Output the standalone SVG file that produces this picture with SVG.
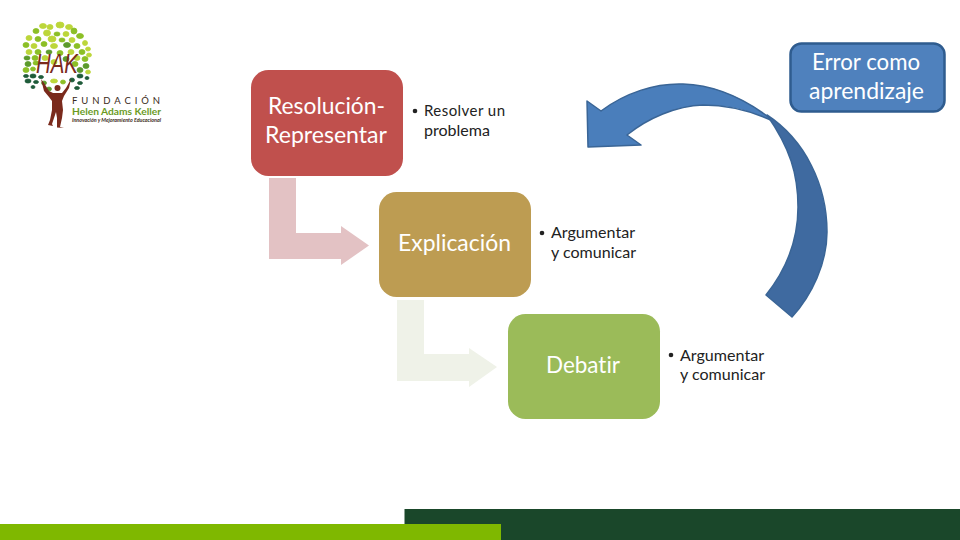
<svg xmlns="http://www.w3.org/2000/svg" width="960" height="540" viewBox="0 0 960 540">
<style>
text{font-family:"Lato","Open Sans","Liberation Sans",sans-serif;font-variant-ligatures:none}
.t{fill:#fff;font-size:22.5px;text-anchor:middle}
.b{fill:#222;font-size:15px}
.lg{fill:#8cbf26;stroke:#8cbf26}.ld{fill:#5c9a2c;stroke:#5c9a2c}.ll{fill:#bcd63a;stroke:#bcd63a}.lk{fill:#1f5c3a;stroke:#1f5c3a}
#leaves ellipse{stroke-width:.8}
</style>
<rect width="960" height="540" fill="#fff"/>
<g id="footer">
<rect x="404.500" y="509" width="555.500" height="31" fill="#1a472a"/>
<rect x="0" y="524" width="501" height="16" fill="#7fb800"/>
</g>
<g id="logo">
<g id="leaves">
<ellipse class="ll" cx="43" cy="26" rx="3.5" ry="2.500"/><ellipse class="ll" cx="50" cy="27" rx="3" ry="2.500"/><ellipse class="ll" cx="60" cy="25" rx="4" ry="3"/><ellipse class="ll" cx="69" cy="27" rx="3.500" ry="2.500"/><ellipse class="lg" cx="74" cy="31" rx="3" ry="3"/>
<ellipse class="lg" cx="36" cy="31" rx="3" ry="2.500"/><ellipse class="ll" cx="47" cy="33" rx="3.500" ry="3"/><ellipse class="lg" cx="57" cy="34" rx="3" ry="2"/><ellipse class="ll" cx="66" cy="34" rx="3" ry="2.500"/><ellipse class="lg" cx="80" cy="36" rx="3.500" ry="2.500"/>
<ellipse class="ll" cx="29" cy="38" rx="3" ry="2.500"/><ellipse class="lg" cx="38" cy="39" rx="3" ry="2.500"/><ellipse class="ll" cx="52" cy="39" rx="4" ry="3"/><ellipse class="lg" cx="62" cy="40" rx="3" ry="2"/><ellipse class="ll" cx="72" cy="40" rx="3" ry="2.500"/>
<ellipse class="lg" cx="26" cy="45" rx="3" ry="2.500"/><ellipse class="ll" cx="34" cy="46" rx="3" ry="2.500"/><ellipse class="lg" cx="44" cy="44" rx="3" ry="2.500"/><ellipse class="ll" cx="54" cy="46" rx="3.500" ry="2.500"/><ellipse class="ld" cx="67" cy="45" rx="3.500" ry="2.500"/><ellipse class="lg" cx="77" cy="46" rx="3" ry="2.500"/><ellipse class="ll" cx="85" cy="43" rx="2.500" ry="2.500"/>
<ellipse class="ll" cx="29" cy="52" rx="3" ry="2.500"/><ellipse class="lg" cx="38" cy="52" rx="3" ry="2.500"/><ellipse class="ld" cx="49" cy="52" rx="3" ry="2"/><ellipse class="lg" cx="60" cy="53" rx="3" ry="2.500"/><ellipse class="ll" cx="71" cy="52" rx="3" ry="2.500"/><ellipse class="lg" cx="82" cy="52" rx="3" ry="2.500"/><ellipse class="ll" cx="88" cy="49" rx="2.500" ry="2"/>
<ellipse class="ld" cx="27" cy="58" rx="3" ry="2"/><ellipse class="lg" cx="35" cy="58" rx="3" ry="2.500"/><ellipse class="ll" cx="45" cy="58" rx="3" ry="2.500"/><ellipse class="ld" cx="66" cy="59" rx="3" ry="2.500"/><ellipse class="ll" cx="77" cy="58" rx="3" ry="2.500"/><ellipse class="lg" cx="85" cy="59" rx="3" ry="2.500"/>
<ellipse class="ld" cx="28" cy="64" rx="3" ry="2.500"/><ellipse class="lg" cx="36" cy="63" rx="3" ry="2"/><ellipse class="ll" cx="54" cy="62" rx="3" ry="2.500"/><ellipse class="lg" cx="75" cy="64" rx="3" ry="2.500"/><ellipse class="ll" cx="89" cy="55" rx="2.500" ry="2"/><ellipse class="ld" cx="86" cy="66" rx="3" ry="2.500"/>
<ellipse class="lg" cx="26" cy="70" rx="3" ry="2.500"/><ellipse class="lg" cx="33" cy="69" rx="2.500" ry="2"/><ellipse class="ld" cx="80" cy="70" rx="3" ry="2.500"/><ellipse class="ll" cx="88" cy="72" rx="2.500" ry="2"/>
<ellipse class="lk" cx="26" cy="76" rx="2.500" ry="1.500"/><ellipse class="lk" cx="33" cy="76" rx="3" ry="2"/><ellipse class="lk" cx="41" cy="77" rx="2.500" ry="1.500"/><ellipse class="lk" cx="80" cy="76" rx="3" ry="2"/><ellipse class="lk" cx="87" cy="78" rx="2" ry="1.500"/>
<ellipse class="lk" cx="28" cy="81" rx="3" ry="2"/><ellipse class="lk" cx="36" cy="82" rx="2.500" ry="1.500"/><ellipse class="ld" cx="44" cy="83" rx="2.500" ry="2"/><ellipse class="lk" cx="72" cy="80" rx="2.500" ry="2"/><ellipse class="lk" cx="80" cy="83" rx="2.500" ry="1.500"/>
<ellipse class="lk" cx="33" cy="87" rx="2" ry="1.500"/><ellipse class="ld" cx="49" cy="89" rx="2.500" ry="2"/><ellipse class="ll" cx="54" cy="81" rx="3.500" ry="2"/><ellipse class="lk" cx="77" cy="88" rx="2.500" ry="1.500"/><ellipse class="lg" cx="63" cy="82" rx="2.500" ry="2"/>
</g>
<g id="figure" fill="#7a2a1c">
<circle cx="57.500" cy="88" r="3"/>
<path d="M41,79 L44,83 L49,91 L53,93 L62,93 L66,88 L71,79 L69,88 L64,96 L62,101 L63,110 L62,118 L60,127 L64,128 L57,127.500 L57,118 L56,112 L54,118 L52,124 L53,126 L48,125 L50,120 L52,110 L52,101 L49,97 L44,91 Z"/>
</g>
<text x="36" y="73" font-style="italic" font-size="28" fill="#7a2a1c" textLength="42" lengthAdjust="spacingAndGlyphs" style="font-family:'Liberation Sans',sans-serif">HAK</text>
<text x="72" y="103.500" font-size="9.500" fill="#3a2a20" textLength="88" lengthAdjust="spacing">FUNDACIÓN</text>
<text x="72" y="115" font-size="10" font-weight="700" fill="#6b9b1f" textLength="89" lengthAdjust="spacingAndGlyphs">Helen Adams Keller</text>
<text x="72" y="122" font-size="4.800" font-weight="700" font-style="italic" fill="#3a2a20" textLength="89" lengthAdjust="spacingAndGlyphs">Innovación y Mejoramiento Educacional</text>
</g>
<g id="connectors">
<path fill="#e3c2c4" d="M269,178 H296 V233 H341 V226 L369,245.500 L341,265 V259 H269 Z"/>
<path fill="#eff2e8" d="M397,300 H424 V354 H469 V348 L497,367 L469,387 V381 H397 Z"/>
<g id="feedback-arrow" stroke="#3a6596" stroke-width="1.500" stroke-linejoin="round">
<path fill="#4a7ebb" d="M601,111 C625,93 655,83 683,84 C716,85 745,98 775,122 C750,110 728,105 703,105 C676,106 648,118 627,135 L641,145 L588,147 L587,101 Z"/>
<path fill="#3f6aa0" d="M767,115 C805,140 827,185 827,232 C827,263 812,295 792,317 L766,295 C786,270 798,240 798,207 C798,174 790,148 767,115 Z"/>
</g>
</g>
<g id="node-resolucion">
<rect x="251" y="70" width="152" height="106" rx="17.500" fill="#c0504d"/>
<text class="t" x="326.500" y="114" textLength="117" lengthAdjust="spacingAndGlyphs">Resolución-</text>
<text class="t" x="326" y="143" textLength="122" lengthAdjust="spacingAndGlyphs">Representar</text>
<circle cx="415" cy="111" r="2.300" fill="#222"/>
<text class="b" x="424" y="116" textLength="81" lengthAdjust="spacing">Resolver un</text>
<text class="b" x="424" y="136" textLength="66" lengthAdjust="spacingAndGlyphs">problema</text>
</g>
<g id="node-explicacion">
<rect x="379" y="192" width="152" height="105" rx="17.500" fill="#bd9c52"/>
<text class="t" x="454.500" y="251" textLength="113" lengthAdjust="spacingAndGlyphs">Explicación</text>
<circle cx="542" cy="233" r="2.300" fill="#222"/>
<text class="b" x="551" y="238" textLength="84" lengthAdjust="spacingAndGlyphs">Argumentar</text>
<text class="b" x="551" y="258" textLength="85" lengthAdjust="spacingAndGlyphs">y comunicar</text>
</g>
<g id="node-debatir">
<rect x="508" y="314" width="152" height="105" rx="17.500" fill="#9bbb59"/>
<text class="t" x="583" y="373" textLength="74" lengthAdjust="spacingAndGlyphs">Debatir</text>
<circle cx="671" cy="355" r="2.300" fill="#222"/>
<text class="b" x="680" y="361" textLength="84" lengthAdjust="spacingAndGlyphs">Argumentar</text>
<text class="b" x="680" y="380" textLength="85" lengthAdjust="spacingAndGlyphs">y comunicar</text>
</g>
<g id="node-error">
<rect x="790.500" y="43.500" width="154" height="68" rx="11" fill="#4f81bd" stroke="#2f5c8f" stroke-width="2.500"/>
<text class="t" x="866" y="70" textLength="108" lengthAdjust="spacingAndGlyphs">Error como</text>
<text class="t" x="866.500" y="99" textLength="115" lengthAdjust="spacingAndGlyphs">aprendizaje</text>
</g>
</svg>
